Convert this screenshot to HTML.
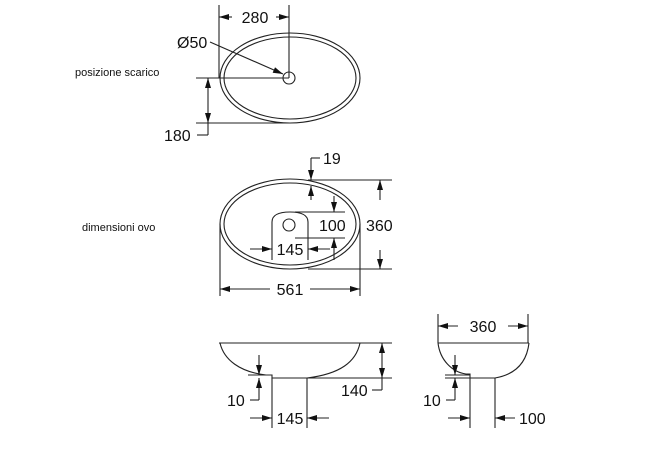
<!DOCTYPE html>
<html><head><meta charset="utf-8"><style>
html,body{margin:0;padding:0;background:#fff;}
svg{display:block;}
text{font-family:"Liberation Sans",sans-serif;fill:#111;}
.n{font-size:16px;}
.l{font-size:11px;}
</style></head><body>
<svg width="670" height="466" viewBox="0 0 670 466" xmlns="http://www.w3.org/2000/svg">
<defs>
<marker id="a" viewBox="0 0 10 6" refX="10" refY="3" markerWidth="11" markerHeight="6" orient="auto" markerUnits="userSpaceOnUse"><path d="M0,0L10,3L0,6z" fill="#111"/></marker>
</defs>
<g stroke="#222" stroke-width="1.1" fill="none">
<!-- top view -->
<ellipse cx="290" cy="78" rx="70" ry="45"/>
<ellipse cx="290" cy="78" rx="66" ry="41"/>
<circle cx="289" cy="78" r="6"/>
<line x1="219" y1="5" x2="219" y2="78"/>
<line x1="289" y1="5" x2="289" y2="78"/>
<line x1="232" y1="17" x2="219" y2="17" marker-end="url(#a)"/>
<line x1="276" y1="17" x2="289" y2="17" marker-end="url(#a)"/>
<line x1="210" y1="42" x2="283" y2="74" marker-end="url(#a)"/>
<line x1="196" y1="78" x2="289" y2="78"/>
<line x1="196" y1="123" x2="290" y2="123"/>
<line x1="208" y1="100" x2="208" y2="78" marker-end="url(#a)"/>
<line x1="208" y1="100" x2="208" y2="123" marker-end="url(#a)"/>
<line x1="208" y1="123" x2="208" y2="135"/>
<line x1="197" y1="135" x2="208" y2="135"/>
<!-- middle view -->
<ellipse cx="290" cy="224" rx="70" ry="45"/>
<ellipse cx="290" cy="224" rx="66" ry="41"/>
<path d="M272,260 V222 Q272,212 290,212 Q308,212 308,222 V260"/>
<circle cx="289" cy="225" r="6"/>
<line x1="311" y1="158" x2="320" y2="158"/>
<line x1="311" y1="158" x2="311" y2="180" marker-end="url(#a)"/>
<line x1="311" y1="200" x2="311" y2="186" marker-end="url(#a)"/>
<line x1="308" y1="180" x2="392" y2="180"/>
<line x1="308" y1="269" x2="392" y2="269"/>
<line x1="380" y1="200" x2="380" y2="180" marker-end="url(#a)"/>
<line x1="380" y1="250" x2="380" y2="269" marker-end="url(#a)"/>
<line x1="295" y1="212" x2="345" y2="212"/>
<line x1="295" y1="238" x2="345" y2="238"/>
<line x1="334" y1="196" x2="334" y2="212" marker-end="url(#a)"/>
<line x1="334" y1="260" x2="334" y2="238" marker-end="url(#a)"/>
<line x1="250" y1="249" x2="272" y2="249" marker-end="url(#a)"/>
<line x1="330" y1="249" x2="308" y2="249" marker-end="url(#a)"/>
<line x1="220" y1="224" x2="220" y2="296"/>
<line x1="360" y1="224" x2="360" y2="296"/>
<line x1="270" y1="289" x2="220" y2="289" marker-end="url(#a)"/>
<line x1="310" y1="289" x2="360" y2="289" marker-end="url(#a)"/>
<!-- side view left -->
<line x1="219" y1="343" x2="392" y2="343"/>
<path d="M220,343 C224,360 240,372 266,375 L272,375 V378 H307 C340,374 356,362 360,343"/>
<line x1="307" y1="378" x2="392" y2="378"/>
<line x1="248" y1="375" x2="272" y2="375"/>
<line x1="382" y1="360" x2="382" y2="343" marker-end="url(#a)"/>
<line x1="382" y1="360" x2="382" y2="378" marker-end="url(#a)"/>
<line x1="382" y1="378" x2="382" y2="390"/>
<line x1="372" y1="390" x2="382" y2="390"/>
<line x1="259" y1="355" x2="259" y2="375" marker-end="url(#a)"/>
<line x1="259" y1="392" x2="259" y2="378" marker-end="url(#a)"/>
<line x1="259" y1="392" x2="259" y2="400"/>
<line x1="250" y1="400" x2="259" y2="400"/>
<line x1="272" y1="378" x2="272" y2="428"/>
<line x1="307" y1="378" x2="307" y2="428"/>
<line x1="250" y1="418" x2="272" y2="418" marker-end="url(#a)"/>
<line x1="329" y1="418" x2="307" y2="418" marker-end="url(#a)"/>
<!-- side view right -->
<line x1="438" y1="343" x2="529" y2="343"/>
<path d="M438,343 C440,360 452,372 466,374 L470,374 V378 H495 C518,374 527,360 529,343"/>
<line x1="438" y1="314" x2="438" y2="343"/>
<line x1="528" y1="314" x2="528" y2="343"/>
<line x1="458" y1="326" x2="438" y2="326" marker-end="url(#a)"/>
<line x1="508" y1="326" x2="528" y2="326" marker-end="url(#a)"/>
<line x1="445" y1="375" x2="470" y2="375"/>
<line x1="445" y1="378" x2="470" y2="378"/>
<line x1="455" y1="355" x2="455" y2="375" marker-end="url(#a)"/>
<line x1="455" y1="392" x2="455" y2="378" marker-end="url(#a)"/>
<line x1="455" y1="392" x2="455" y2="400"/>
<line x1="446" y1="400" x2="455" y2="400"/>
<line x1="470" y1="378" x2="470" y2="428"/>
<line x1="495" y1="378" x2="495" y2="428"/>
<line x1="448" y1="418" x2="470" y2="418" marker-end="url(#a)"/>
<line x1="515" y1="418" x2="495" y2="418" marker-end="url(#a)"/>
</g>
<g>
<rect x="236" y="8" width="40" height="18" fill="#fff"/>
<text class="n" x="255" y="23" text-anchor="middle">280</text>
<text class="n" x="177" y="48">Ø50</text>
<text class="n" x="164" y="141">180</text>
<text class="l" x="75" y="76">posizione scarico</text>
<text class="l" x="82" y="231">dimensioni ovo</text>
<text class="n" x="323" y="164">19</text>
<text class="n" x="319" y="231">100</text>
<text class="n" x="366" y="231">360</text>
<text class="n" x="290" y="255" text-anchor="middle">145</text>
<rect x="274" y="280" width="32" height="18" fill="#fff"/>
<text class="n" x="290" y="295" text-anchor="middle">561</text>
<text class="n" x="341" y="396">140</text>
<text class="n" x="227" y="406">10</text>
<text class="n" x="290" y="424" text-anchor="middle">145</text>
<rect x="463" y="317" width="40" height="18" fill="#fff"/>
<text class="n" x="483" y="332" text-anchor="middle">360</text>
<text class="n" x="423" y="406">10</text>
<text class="n" x="519" y="424">100</text>
</g>
</svg>
</body></html>
